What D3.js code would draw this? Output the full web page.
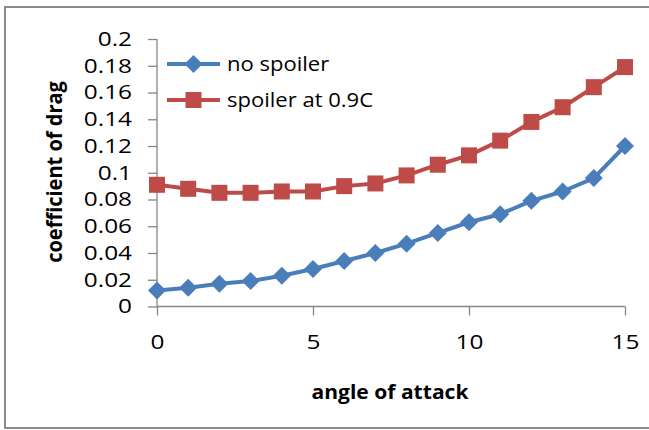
<!DOCTYPE html>
<html>
<head>
<meta charset="utf-8">
<script src="https://cdn.jsdelivr.net/npm/d3@7"></script>
<style>
  body { margin: 0; background: #fff; }
  text { font-family: "Open Sans", "Liberation Sans", sans-serif; fill: #000; }
</style>
</head>
<body>
<svg id="chart" width="649" height="430"></svg>
<script>
// angle of attack values
const angles = [0, 1, 2, 3, 4, 5, 6, 7, 8, 9, 10, 11, 12, 13, 14, 15];
// coefficient of drag
const noSpoiler = [0.012, 0.014, 0.017, 0.019, 0.023, 0.028, 0.034, 0.040, 0.047, 0.055, 0.063, 0.069, 0.079, 0.086, 0.096, 0.120];
const spoiler09C = [0.091, 0.088, 0.085, 0.085, 0.086, 0.086, 0.090, 0.092, 0.098, 0.106, 0.113, 0.124, 0.138, 0.149, 0.164, 0.179];
const xTicks = [0, 5, 10, 15];
const yTicks = [0, 0.02, 0.04, 0.06, 0.08, 0.1, 0.12, 0.14, 0.16, 0.18, 0.2];

const series = [
  { name: 'no spoiler', values: noSpoiler, color: '#4a7ebb', marker: 'diamond' },
  { name: 'spoiler at 0.9C', values: spoiler09C, color: '#be4b48', marker: 'square' }
];

const fontSize = 19.5;
const svg = d3.select('#chart');

// the picture is a bit wider than tall, so stretch text horizontally to match
function stretchX(sel, sx) {
  sel.each(function() {
    const t = d3.select(this);
    const x0 = +t.attr('x') || 0;
    t.attr('x', x0 / sx).attr('transform', `scale(${sx},1)`);
  });
}

// outer frame (no right edge visible in the picture)
svg.append('path')
  .attr('d', 'M649,7 H5 V428 H649')
  .attr('fill', 'none')
  .attr('stroke', '#8c8c8c')
  .attr('stroke-width', 2);

const x = d3.scaleLinear().domain([0, 15]).range([157, 625]);
const y = d3.scaleLinear().domain([0, 0.2]).range([306.5, 39]);

const axisColor = '#868686';

// y axis
const yAxis = svg.append('g')
  .attr('transform', `translate(${x(0)},0)`)
  .call(d3.axisLeft(y).tickValues(yTicks).tickSize(9).tickPadding(16).tickFormat(d => String(+d.toFixed(2))));
yAxis.selectAll('text').attr('font-size', fontSize).call(stretchX, 1.25);

// x axis
const xAxis = svg.append('g')
  .attr('transform', `translate(0,${y(0)})`)
  .call(d3.axisBottom(x).tickValues(xTicks).tickSize(9).tickPadding(20));
xAxis.selectAll('text').attr('font-size', fontSize).call(stretchX, 1.25);

yAxis.attr('font-family', null);
xAxis.attr('font-family', null);
svg.selectAll('.domain, .tick line').attr('stroke', axisColor).attr('stroke-width', 1.3);
yAxis.select('.domain').attr('d', `M0,${y(0.2)}V${y(0)}`);
xAxis.select('.domain').attr('d', `M${x(0)},0H${x(15)}`);

// axis titles
svg.append('text')
  .attr('x', 390).attr('y', 399)
  .attr('text-anchor', 'middle')
  .attr('font-size', fontSize).attr('font-weight', 'bold')
  .text('angle of attack')
  .call(stretchX, 1.08);

svg.append('text')
  .attr('transform', 'translate(62,172) rotate(-90) scale(1,1.1)')
  .attr('text-anchor', 'middle')
  .attr('font-size', 20).attr('font-weight', 'bold')
  .text('coefficient of drag');

const line = d3.line()
  .x((d, i) => x(angles[i]))
  .y(d => y(d));

function drawMarker(g, type, color) {
  if (type === 'diamond') {
    g.append('path').attr('d', 'M0,-9L9,0L0,9L-9,0Z').attr('fill', color);
  } else {
    g.append('rect').attr('x', -8).attr('y', -8).attr('width', 16).attr('height', 16).attr('fill', color);
  }
}

series.forEach(s => {
  svg.append('path')
    .datum(s.values)
    .attr('d', line)
    .attr('fill', 'none')
    .attr('stroke', s.color)
    .attr('stroke-width', 4)
    .attr('stroke-linejoin', 'round');

  svg.append('g')
    .selectAll('g')
    .data(s.values)
    .join('g')
      .attr('transform', (d, i) => `translate(${x(angles[i])},${y(d)})`)
      .each(function() { drawMarker(d3.select(this), s.marker, s.color); });
});

// legend
const legend = svg.append('g');
series.forEach((s, i) => {
  const ly = 64 + i * 36;
  const row = legend.append('g').attr('transform', `translate(167,${ly})`);
  row.append('line').attr('x1', 0).attr('x2', 53).attr('stroke', s.color).attr('stroke-width', 4);
  drawMarker(row.append('g').attr('transform', 'translate(26.5,0)'), s.marker, s.color);
  row.append('text')
    .attr('x', 60).attr('y', 0).attr('dy', '0.35em')
    .attr('font-size', fontSize)
    .text(s.name)
    .call(stretchX, 1.13);
});
</script>
</body>
</html>
